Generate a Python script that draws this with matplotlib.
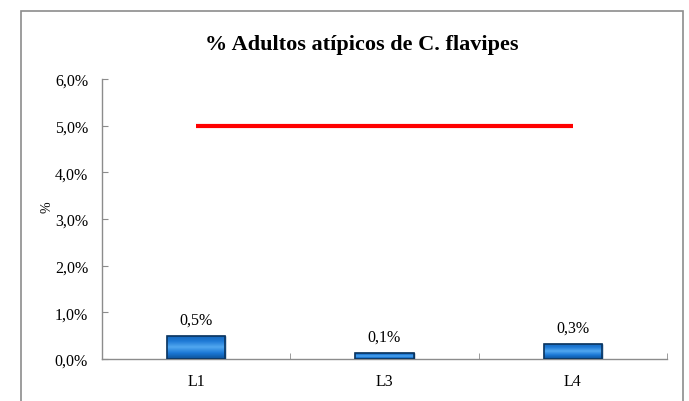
import numpy as np
import matplotlib
matplotlib.use("Agg")
import matplotlib.pyplot as plt
from matplotlib.patches import Rectangle
from matplotlib.colors import LinearSegmentedColormap

categories = ["L1", "L3", "L4"]
values = [0.50, 0.12, 0.33]          # % adultos atípicos
labels = ["0,5%", "0,1%", "0,3%"]
limit = [5.0, 5.0, 5.0]              # línea de referencia 5%
yticks = [0, 1, 2, 3, 4, 5, 6]
yticklabels = ["0,0%", "1,0%", "2,0%", "3,0%", "4,0%", "5,0%", "6,0%"]
title = "% Adultos atípicos de C. flavipes"

plt.rcParams['font.family'] = ['Liberation Serif', 'DejaVu Serif']

fig = plt.figure(figsize=(6.89, 4.02), dpi=100)
ax = fig.add_axes([102/689, 1-360/402, 565/689, 280/402])

# outer chart border
border = Rectangle((21/689, -0.1), (683-21)/689, 1.1 - 12/402, transform=fig.transFigure,
                   fill=False, edgecolor='#8c8c8c', linewidth=1.2, clip_on=False)
fig.patches.append(border)

x = np.arange(len(categories))
bw = 0.31
bars = ax.bar(x, values, width=bw, color='#1c72c8', edgecolor='#0b3560', linewidth=1.0, zorder=2)

cmap = LinearSegmentedColormap.from_list('bev', ['#0d5299', '#1b78d6', '#52a8f0', '#1f7ad6', '#1465b8'])
grad = np.linspace(0, 1, 64).reshape(-1, 1)
for b in bars:
    x0, y0, w, h = b.get_x(), b.get_y(), b.get_width(), b.get_height()
    im = ax.imshow(grad, cmap=cmap, aspect='auto', extent=(x0, x0 + w, y0, y0 + h),
                   origin='lower', zorder=2.5)
    im.set_clip_path(b)
    ax.add_patch(Rectangle((x0, y0), w, h, fill=False, edgecolor='#0b3560', linewidth=1.2, zorder=3))

for xi, v, lab in zip(x, values, labels):
    ax.annotate(lab, (xi, v), xytext=(0, 6), textcoords='offset points',
                ha='center', va='bottom', fontsize=11.5)

ax.plot(x, limit, color='#ff0000', linewidth=3, solid_capstyle='butt', zorder=4)

ax.set_xlim(-0.5, len(categories) - 0.5)
ax.set_ylim(0, 6)
ax.set_yticks(yticks)
ax.set_yticklabels(yticklabels, fontsize=11.5)
ax.set_xticks(x)
ax.set_xticklabels(categories, fontsize=11.5)
ax.set_xticks(np.arange(-0.5, len(categories)), minor=True)
ax.tick_params(axis='x', which='major', length=0, pad=10)
ax.tick_params(axis='x', which='minor', direction='in', length=4, color='#8c8c8c')
ax.tick_params(axis='y', direction='in', length=4, color='#8c8c8c', pad=10)

for s in ['top', 'right']:
    ax.spines[s].set_visible(False)
for s in ['left', 'bottom']:
    ax.spines[s].set_color('#8c8c8c')
    ax.spines[s].set_linewidth(1.0)

ax.set_ylabel('%', fontsize=10)
ax.yaxis.set_label_coords(-0.086, 0.546)
fig.text(362/689, 1-45/402, title, ha='center', va='center', fontsize=16, fontweight='bold')

fig.savefig('out.png', dpi=100)
